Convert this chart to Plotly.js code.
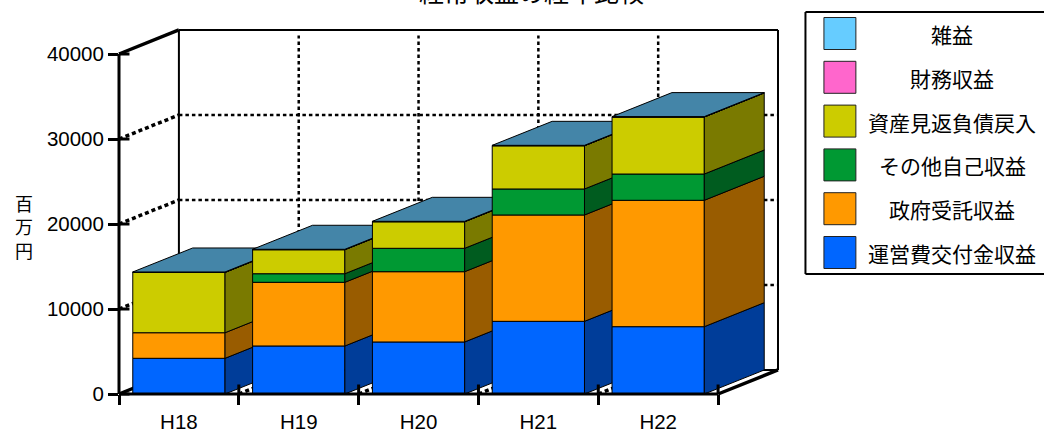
<!DOCTYPE html>
<html><head><meta charset="utf-8">
<script src="https://cdn.plot.ly/plotly-3.0.1.min.js"></script>
<style>html,body{margin:0;padding:0;background:#fff;overflow:hidden}</style>
</head><body><div id="chart" style="width:1044px;height:430px"></div>
<script>
const categories = ['H18','H19','H20','H21','H22'];
const unei   = [4200, 5650, 6120, 8550, 7920];
const seifu  = [3010, 7490, 8270, 12510, 14870];
const sonota = [0, 1010, 2750, 3060, 3090];
const shisan = [7100, 2830, 3130, 5090, 6710];
const zaimu  = [5, 5, 5, 5, 5];
const zatsu  = [40, 40, 40, 40, 40];
const yTicks = [0, 10000, 20000, 30000, 40000];
const seriesNames = ['運営費交付金収益','政府受託収益','その他自己収益','資産見返負債戻入','財務収益','雑益'];
const seriesValues = [unei, seifu, sonota, shisan, zaimu, zatsu];
const frontColors = ['#0066FF','#FF9900','#009933','#CCCC00','#FF66CC','#66CCFF'];
const sideColors  = ['#003D99','#995C00','#005C1F','#7A7A00','#993D7A','#3D7A99'];
const topColor = '#4485A8';

const L=118.5,T=30,W=660,H=364;
const X0=-0.5,X1=5,YMAX=40000, Y1=YMAX*364/340;
const DX=0.5, DY=2824, BW=0.77;           // depth of the 3-D box in axis units
const jp='"Noto Sans CJK JP","Liberation Sans",sans-serif', en='"Liberation Sans",Arial,sans-serif';
const fx=v=>(v-X0)/(X1-X0), fy=v=>v/Y1;
const pdx=DX/(X1-X0), pdy=DY/Y1;
const px=p=>(p-L)/W, py=p=>(T+H-p)/H;
const xEnd=fx(4.5), yEnd=fy(YMAX);

const traces=[], shapes=[], annotations=[];
const totals=categories.map((c,k)=>seriesValues.reduce((a,v)=>a+v[k],0));
traces.push({type:'scatter',mode:'lines',x:categories,y:totals,xaxis:'x',yaxis:'y',opacity:0,line:{width:0},showlegend:false,hoverinfo:'skip'});
categories.forEach((c,k)=>{
  const xa='x'+(k+2);
  let base=0;
  seriesValues.forEach((vals,s)=>{
    const v=vals[k];
    if(v<=0) return;
    traces.push({type:'bar',x:[k],y:[v],base:[base],width:[BW],xaxis:xa,yaxis:'y',name:seriesNames[s],
      marker:{color:frontColors[s],line:{color:'#000',width:1}},showlegend:false,hoverinfo:'skip'});
    const r=k+BW/2;
    traces.push({type:'scatter',mode:'lines',xaxis:xa,yaxis:'y',fill:'toself',fillcolor:sideColors[s],
      x:[r,r+DX,r+DX,r,r],y:[base,base+DY,base+v+DY,base+v,base],
      line:{color:'#000',width:1},showlegend:false,hoverinfo:'skip'});
    base+=v;
  });
  const l=k-BW/2,r=k+BW/2;
  traces.push({type:'scatter',mode:'lines',xaxis:xa,yaxis:'y',fill:'toself',fillcolor:topColor,
    x:[l,l+DX,r+DX,r,l],y:[base,base+DY,base+DY,base,base],
    line:{color:'#000',width:1},showlegend:false,hoverinfo:'skip'});
});

const ln=(x0,y0,x1,y1,w,dash,layer,color)=>shapes.push({type:'line',xref:'paper',yref:'paper',x0,y0,x1,y1,layer:layer||'below',
  line:{color:color||'#000',width:w,dash:dash||'solid'}});
// back wall
ln(pdx,pdy,pdx,yEnd+pdy,2);
ln(pdx,yEnd+pdy,xEnd+pdx,yEnd+pdy,2);
ln(xEnd+pdx,pdy,xEnd+pdx,yEnd+pdy,2);
ln(pdx,pdy,xEnd+pdx,pdy,2);
const DOT='3.5px,3px', FAT='4px,3px';
yTicks.forEach(t=>{
  const y=fy(t);
  if(t>0&&t<YMAX) ln(pdx,y+pdy,xEnd+pdx,y+pdy,2.5,DOT);
  ln(0,y,pdx,y+pdy,3.5,t===YMAX||t===0?'solid':FAT);
  ln(0,y,px(129),y,3,'solid','above');
});
categories.forEach((c,k)=>{
  const x=fx(k+0.5);
  if(k<4) ln(x+pdx,pdy,x+pdx,yEnd+pdy-0.015,2.5,DOT);
  ln(x,0,x+pdx,pdy,3.5,k===4?'solid':FAT);
  ln(x,0,x,py(384.5),3,'solid','above');
});
ln(0,0,0,yEnd,3,'solid','above');
ln(0,0,xEnd,0,3,'solid','above');

// legend panel
const lgTop=12,lgBot=274,lgL=806;
ln(px(lgL),py(lgTop),px(lgL),py(lgBot),2);
ln(px(lgL),py(lgTop),px(1046),py(lgTop),2);
ln(px(lgL),py(lgBot),px(1046),py(lgBot),2);
const order=[5,4,3,2,1,0];
order.forEach((s,i)=>{
  const y0=17.5+i*43.8;
  shapes.push({type:'rect',xref:'paper',yref:'paper',x0:px(824.5),x1:px(856.5),y0:py(y0),y1:py(y0+32),layer:'below',
    fillcolor:frontColors[s],line:{color:'#222',width:1}});
  annotations.push({xref:'paper',yref:'paper',x:px(953),y:py(y0+16.5),xanchor:'center',yanchor:'middle',showarrow:false,
    text:seriesNames[s],font:{family:jp,size:21,color:'#000'}});
});
annotations.push({xref:'paper',yref:'paper',x:px(531.5),y:py(-9),xanchor:'center',yanchor:'middle',showarrow:false,
  text:'経常収益の経年比較',font:{family:jp,size:25,color:'#000'}});
annotations.push({xref:'paper',yref:'paper',x:px(23.5),y:py(226.5),xanchor:'center',yanchor:'middle',showarrow:false,
  text:'百<br>万<br>円',font:{family:jp,size:18,color:'#000'}});

const layout={width:1044,height:430,margin:{l:L,r:1044-L-W,t:T,b:430-T-H,pad:0},
  paper_bgcolor:'#fff',plot_bgcolor:'rgba(0,0,0,0)',showlegend:false,barmode:'overlay',
  xaxis:{type:'category',categoryorder:'array',categoryarray:categories,range:[X0,X1],tickson:'boundaries',
    showgrid:false,zeroline:false,showline:false,ticks:'outside',ticklen:10,tickwidth:3,tickcolor:'#000',ticklabelstandoff:13,
    tickfont:{family:en,size:20.5,color:'#000'},fixedrange:true},
  yaxis:{range:[0,Y1],tickmode:'array',tickvals:yTicks,ticktext:yTicks.map(String),showgrid:false,zeroline:false,showline:false,
    ticks:'outside',ticklen:10,tickwidth:3,tickcolor:'#000',tickfont:{family:en,size:20.5,color:'#000'},fixedrange:true},
  shapes,annotations};
categories.forEach((c,k)=>{
  layout['xaxis'+(k+2)]={overlaying:'x',anchor:'y',range:[X0,X1],visible:false,fixedrange:true};
});
Plotly.newPlot('chart',traces,layout,{displayModeBar:false,staticPlot:true});
</script></body></html>
